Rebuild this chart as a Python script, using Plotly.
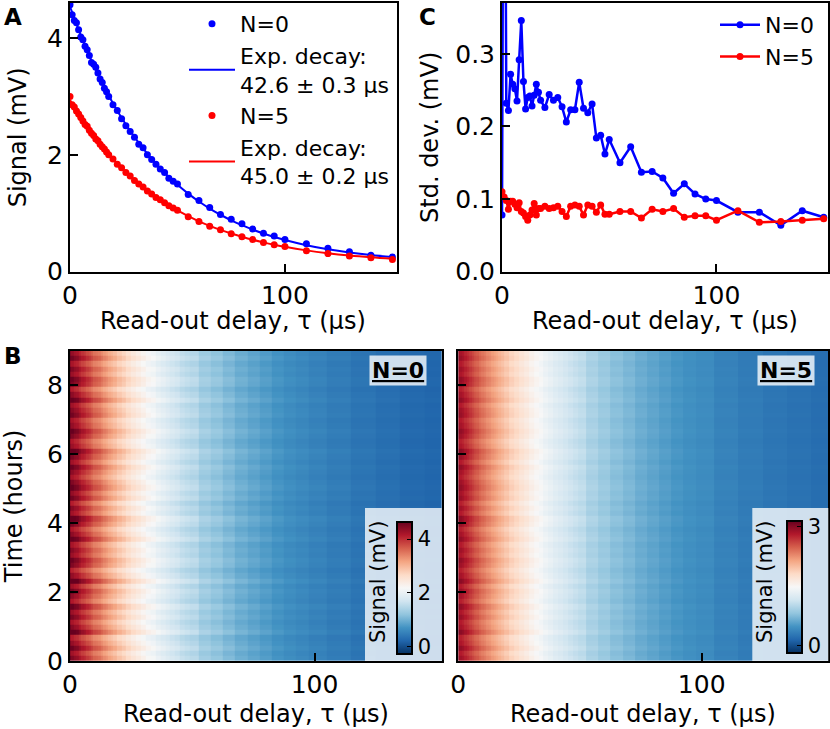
import numpy as np
import plotly.graph_objects as go

# ── data ─────────────────────────────────────────────────────────────────────
tau_us = [0, 1, 2, 3, 4, 5, 6, 7, 8, 9, 10, 11, 12, 13, 14, 15, 16, 17, 18,
          20, 22, 24, 26, 28, 30, 32, 34, 36, 38, 40, 42, 44, 46, 48, 50,
          55, 60, 65, 70, 75, 80, 85, 90, 95, 100,
          110, 120, 130, 140, 150]

signal_n0 = [4.57, 4.40, 4.30, 4.26, 4.14, 4.02, 3.97, 3.86, 3.80, 3.70, 3.58, 3.55, 3.50,
             3.40, 3.30, 3.24, 3.14, 3.08, 3.00, 2.86, 2.76, 2.62, 2.50, 2.40, 2.30, 2.18,
             2.12, 2.00, 1.92, 1.84, 1.76, 1.70, 1.60, 1.55, 1.50, 1.32, 1.22, 1.10, 0.98,
             0.90, 0.82, 0.73, 0.66, 0.61, 0.55, 0.48, 0.40, 0.34, 0.28, 0.25]
signal_n5 = [3.00, 2.86, 2.82, 2.75, 2.70, 2.64, 2.58, 2.52, 2.49, 2.42, 2.37, 2.33, 2.27,
             2.24, 2.18, 2.14, 2.10, 2.05, 2.00, 1.93, 1.84, 1.78, 1.70, 1.64, 1.56, 1.50,
             1.45, 1.38, 1.33, 1.27, 1.23, 1.18, 1.13, 1.09, 1.05, 0.94, 0.86, 0.78, 0.72,
             0.65, 0.60, 0.55, 0.50, 0.46, 0.43, 0.36, 0.31, 0.27, 0.24, 0.21]

# exponential fits (tau = 42.6 us and 45.0 us), evaluated on the same delays
fit_n0 = [4.540, 4.438, 4.337, 4.239, 4.144, 4.051, 3.959, 3.870, 3.783, 3.698, 3.615,
          3.534, 3.455, 3.378, 3.302, 3.228, 3.156, 3.086, 3.017, 2.884, 2.757, 2.636,
          2.521, 2.411, 2.306, 2.205, 2.110, 2.018, 1.931, 1.848, 1.769, 1.694, 1.621,
          1.553, 1.487, 1.336, 1.201, 1.081, 0.975, 0.880, 0.796, 0.721, 0.654, 0.595,
          0.543, 0.454, 0.384, 0.329, 0.285, 0.251]
fit_n5 = [2.940, 2.878, 2.817, 2.758, 2.700, 2.643, 2.588, 2.534, 2.481, 2.429, 2.378,
          2.328, 2.280, 2.232, 2.186, 2.141, 2.096, 2.053, 2.010, 1.928, 1.849, 1.774,
          1.702, 1.633, 1.568, 1.505, 1.445, 1.387, 1.332, 1.279, 1.229, 1.181, 1.135,
          1.091, 1.048, 0.951, 0.863, 0.785, 0.715, 0.653, 0.597, 0.546, 0.502, 0.462,
          0.426, 0.365, 0.316, 0.277, 0.246, 0.221]

std_n0 = [0.078, 0.95, 0.232, 0.222, 0.272, 0.258, 0.252, 0.235, 0.292, 0.346, 0.262,
          0.224, 0.240, 0.242, 0.228, 0.243, 0.258, 0.247, 0.236, 0.226, 0.244, 0.236,
          0.240, 0.227, 0.206, 0.223, 0.223, 0.261, 0.225, 0.219, 0.231, 0.184, 0.188,
          0.162, 0.182, 0.150, 0.172, 0.137, 0.138, 0.129, 0.108, 0.121, 0.107, 0.100,
          0.098, 0.082, 0.082, 0.064, 0.084, 0.075]
std_n5 = [0.110, 0.103, 0.098, 0.086, 0.097, 0.097, 0.093, 0.088, 0.095, 0.083, 0.081,
          0.076, 0.071, 0.078, 0.085, 0.094, 0.078, 0.087, 0.087, 0.090, 0.087, 0.088,
          0.090, 0.083, 0.076, 0.090, 0.092, 0.090, 0.078, 0.092, 0.090, 0.082, 0.092,
          0.079, 0.079, 0.083, 0.083, 0.074, 0.086, 0.083, 0.087, 0.075, 0.077, 0.077,
          0.071, 0.084, 0.068, 0.069, 0.071, 0.073]

# per-row drift over the 9 h run (estimated from the streaks), bottom -> top
row_gain_n0 = [1.02, 0.97, 1.05, 0.99, 0.94, 1.08, 1.01, 0.96, 1.03, 0.98,
               1.06, 0.95, 1.00, 1.04, 0.97, 1.09, 0.99, 0.93, 1.02, 1.05,
               0.98, 1.01, 0.96, 1.07, 1.00, 0.95, 1.03, 1.08, 0.97, 1.01,
               0.94, 1.04, 0.99, 1.06, 1.02, 0.96, 1.00, 1.05, 0.97, 1.03,
               1.08, 0.98, 0.95, 1.02, 1.06, 0.99, 0.96, 1.04, 1.01, 0.97,
               1.07, 1.00, 0.94, 1.03, 1.05, 0.98, 1.02, 0.96, 1.04, 0.99]
row_gain_n5 = [1.01, 0.98, 1.03, 0.99, 0.97, 1.04, 1.00, 0.98, 1.02, 0.99,
               1.03, 0.97, 1.00, 1.02, 0.98, 1.04, 1.00, 0.97, 1.01, 1.03,
               0.99, 1.01, 0.98, 1.03, 1.00, 0.97, 1.02, 1.04, 0.98, 1.01,
               0.97, 1.02, 1.00, 1.03, 1.01, 0.98, 1.00, 1.03, 0.98, 1.02,
               1.04, 0.99, 0.97, 1.01, 1.03, 1.00, 0.98, 1.02, 1.01, 0.98,
               1.03, 1.00, 0.97, 1.02, 1.03, 0.99, 1.01, 0.98, 1.02, 1.00]

time_h = np.arange(len(row_gain_n0)) * 0.15 + 0.075
z_n0 = np.outer(row_gain_n0, signal_n0)
z_n5 = np.outer(row_gain_n5, signal_n5)

# ── style ────────────────────────────────────────────────────────────────────
FONT = "DejaVu Sans"
BLUE, RED = "#0000ff", "#ff0000"
RDBU_R = [[0.0, "#053061"], [0.1, "#2166ac"], [0.2, "#4393c3"], [0.3, "#92c5de"],
          [0.4, "#d1e5f0"], [0.5, "#f7f7f7"], [0.6, "#fddbc7"], [0.7, "#f4a582"],
          [0.8, "#d6604d"], [0.9, "#b2182b"], [1.0, "#67001f"]]
TICK_SIZE = 25
TITLE_SIZE = 24
XTITLE = "Read-out delay, τ (μs)"

def px_x(p):
    return p / 830

def px_y(p):
    return 1 - p / 729

fig = go.Figure()

# ── panel A ──────────────────────────────────────────────────────────────────
fig.add_trace(go.Scatter(x=tau_us, y=signal_n0, mode="markers", name="N=0",
                         marker=dict(color=BLUE, size=7), legendrank=1,
                         xaxis="x", yaxis="y"))
fig.add_trace(go.Scatter(x=tau_us, y=fit_n0, mode="lines", line_shape="spline",
                         name="Exp. decay:<br>42.6 ± 0.3 μs",
                         line=dict(color=BLUE, width=2), legendrank=2,
                         xaxis="x", yaxis="y"))
fig.add_trace(go.Scatter(x=tau_us, y=signal_n5, mode="markers", name="N=5",
                         marker=dict(color=RED, size=7), legendrank=3,
                         xaxis="x", yaxis="y"))
fig.add_trace(go.Scatter(x=tau_us, y=fit_n5, mode="lines", line_shape="spline",
                         name="Exp. decay:<br>45.0 ± 0.2 μs",
                         line=dict(color=RED, width=2), legendrank=4,
                         xaxis="x", yaxis="y"))

# ── panel C ──────────────────────────────────────────────────────────────────
fig.add_trace(go.Scatter(x=tau_us, y=std_n0, mode="lines+markers", name="N=0",
                         line=dict(color=BLUE, width=2.5), marker=dict(size=7),
                         legend="legend2", xaxis="x2", yaxis="y2"))
fig.add_trace(go.Scatter(x=tau_us, y=std_n5, mode="lines+markers", name="N=5",
                         line=dict(color=RED, width=2.5), marker=dict(size=7),
                         legend="legend2", xaxis="x2", yaxis="y2"))

# ── panel B heatmaps ─────────────────────────────────────────────────────────
cb_common = dict(thickness=15, lenmode="pixels", len=132, xanchor="left",
                 yanchor="middle", xpad=0, ypad=0, outlinewidth=2,
                 outlinecolor="black", ticks="inside", ticklen=6,
                 tickcolor="black", tickfont=dict(size=21, color="black"),
                 bgcolor="rgba(0,0,0,0)")
fig.add_trace(go.Heatmap(x=tau_us, y=time_h, z=z_n0, colorscale=RDBU_R,
                         zmin=-0.25, zmax=4.65, xaxis="x3", yaxis="y3",
                         colorbar=dict(cb_common, x=px_x(396.7), y=px_y(587.5),
                                       tickvals=[0, 2, 4])))
fig.add_trace(go.Heatmap(x=tau_us, y=time_h, z=z_n5, colorscale=RDBU_R,
                         zmin=-0.18, zmax=3.14, xaxis="x4", yaxis="y4",
                         colorbar=dict(cb_common, x=px_x(786.7), y=px_y(587.0),
                                       tickvals=[0, 3])))

# ── axes ─────────────────────────────────────────────────────────────────────
ax_common = dict(showline=True, mirror=True, linewidth=2, linecolor="black",
                 ticks="inside", ticklen=8, tickwidth=1.5, tickcolor="black",
                 showgrid=False, zeroline=False, automargin=False,
                 tickfont=dict(size=TICK_SIZE))

def ytitle(text, standoff):
    return dict(text=text, standoff=standoff, font=dict(size=TITLE_SIZE))

top_y = [px_y(271.7), px_y(3)]
bot_y = [px_y(661), px_y(350.7)]

fig.update_layout(
    width=830, height=729,
    margin=dict(l=0, r=0, t=0, b=0, autoexpand=False),
    paper_bgcolor="white", plot_bgcolor="white",
    font=dict(family=FONT, color="black", size=21),
    xaxis=dict(ax_common, domain=[px_x(70), px_x(396.7)], range=[0, 152],
               tickvals=[0, 100], anchor="y"),
    yaxis=dict(ax_common, domain=top_y, range=[0, 4.6], tickvals=[0, 2, 4],
               title=ytitle("Signal (mV)", 14), anchor="x"),
    xaxis2=dict(ax_common, domain=[px_x(502), px_x(828)], range=[0, 152],
                tickvals=[0, 100], anchor="y2"),
    yaxis2=dict(ax_common, domain=top_y, range=[0, 0.37],
                tickvals=[0, 0.1, 0.2, 0.3], tickformat=".1f",
                title=ytitle("Std. dev. (mV)", 10), anchor="x2"),
    xaxis3=dict(ax_common, domain=[px_x(70), px_x(441.7)], range=[0, 152],
                tickvals=[0, 100], anchor="y3"),
    yaxis3=dict(ax_common, domain=bot_y, range=[0, 9], tickvals=[0, 2, 4, 6, 8],
                title=ytitle("Time (hours)", 19), anchor="x3"),
    xaxis4=dict(ax_common, domain=[px_x(458.3), px_x(828.3)], range=[0, 152],
                tickvals=[0, 100], anchor="y4"),
    yaxis4=dict(ax_common, domain=bot_y, range=[0, 9], tickvals=[0, 2, 4, 6, 8],
                showticklabels=False, anchor="x4"),
    legend=dict(x=px_x(184), y=px_y(3), xanchor="left", yanchor="top",
                bgcolor="rgba(0,0,0,0)", font=dict(size=22), tracegroupgap=0,
                itemwidth=46),
    legend2=dict(x=px_x(715), y=px_y(4), xanchor="left", yanchor="top",
                 bgcolor="rgba(0,0,0,0)", font=dict(size=22), tracegroupgap=0,
                 itemwidth=40),
)

# inset boxes behind the colorbars
for x0, x1 in [(365, 441.7), (752.3, 828.3)]:
    fig.add_shape(type="rect", xref="paper", yref="paper", layer="above",
                  x0=px_x(x0), x1=px_x(x1), y0=px_y(661), y1=px_y(508),
                  fillcolor="rgba(255,255,255,0.78)", line=dict(width=0))

annotations = [
    dict(text="<b>A</b>", x=px_x(2), y=px_y(2), xanchor="left", yanchor="top", font=dict(size=23)),
    dict(text="<b>B</b>", x=px_x(2), y=px_y(341), xanchor="left", yanchor="top", font=dict(size=23)),
    dict(text="<b>C</b>", x=px_x(417), y=px_y(2), xanchor="left", yanchor="top", font=dict(size=23)),
    dict(text="<b><u>N=0</u></b>", x=px_x(398), y=px_y(370), bgcolor="rgba(255,255,255,0.78)",
         borderpad=2, font=dict(size=22)),
    dict(text="<b><u>N=5</u></b>", x=px_x(785.7), y=px_y(370), bgcolor="rgba(255,255,255,0.78)",
         borderpad=2, font=dict(size=22)),
    dict(text="Signal (mV)", textangle=-90, x=px_x(378), y=px_y(582), font=dict(size=21)),
    dict(text="Signal (mV)", textangle=-90, x=px_x(765), y=px_y(582), font=dict(size=21)),
    # x-axis titles, placed directly so they sit as close to the ticks as in the original
    dict(text=XTITLE, x=px_x(233), y=px_y(321), font=dict(size=TITLE_SIZE)),
    dict(text=XTITLE, x=px_x(665), y=px_y(321), font=dict(size=TITLE_SIZE)),
    dict(text=XTITLE, x=px_x(256), y=px_y(714), font=dict(size=TITLE_SIZE)),
    dict(text=XTITLE, x=px_x(643), y=px_y(714), font=dict(size=TITLE_SIZE)),
]
for a in annotations:
    a.setdefault("xanchor", "center")
    a.setdefault("yanchor", "middle")
    fig.add_annotation(a, xref="paper", yref="paper", showarrow=False)

# the page's default body margin would push the 830x729 figure out of the window
fig.write_html("out.html", config={"displayModeBar": False},
               post_script="document.body.style.margin='0';document.body.style.overflow='hidden';")
